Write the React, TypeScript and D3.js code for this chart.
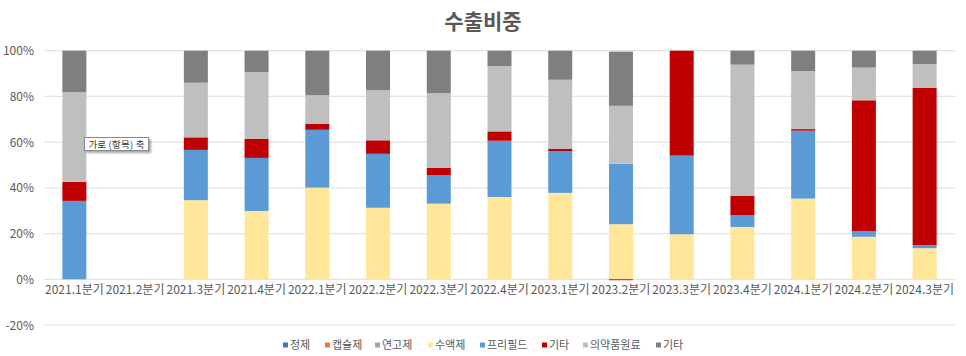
import React from "react";
import * as d3 from "d3";

const categories = ["2021.1분기","2021.2분기","2021.3분기","2021.4분기","2022.1분기","2022.2분기","2022.3분기","2022.4분기","2023.1분기","2023.2분기","2023.3분기","2023.4분기","2024.1분기","2024.2분기","2024.3분기"];
const seriesNames = ["정제","캡슐제","연고제","수액제","프리필드","기타","의약품원료","기타"];
const seriesColors = ["#4472C4","#ED7D31","#A5A5A5","#FFE699","#5B9BD5","#C00000","#BFBFBF","#7F7F7F"];

const tablet = [0,0,0,0,0,0,0,0,0,0,0,0,0,0,0];
const capsule = [0,0,0,0,0,0,0,0,0,0,0,0,0,0,0];
const ointment = [0,0,0,0,0,0,0,0,0,0,0,0,0,0,0];
const infusion = [0,0,34.6,29.9,40.1,31.3,33.1,36.0,37.8,24.1,19.7,22.9,35.3,18.6,13.6];
const prefilled = [34.3,0,22.0,23.2,25.3,23.6,12.4,24.6,18.2,26.5,34.4,5.1,29.7,2.5,1.3];
const etcRed = [8.3,0,5.5,8.3,2.7,5.9,3.2,4.1,1.0,-0.4,45.9,8.6,0.7,57.2,68.8];
const rawMaterial = [39.2,0,23.9,29.3,12.4,21.9,32.7,28.6,30.3,25.3,0,57.3,25.4,14.3,10.5];
const etcGray = [18.2,0,14.0,9.3,19.5,17.3,18.6,6.7,12.7,23.7,0,6.1,8.9,7.4,5.8];

const yTicks = [-20,0,20,40,60,80,100];

export default function App() {
  const W = 966, H = 356;
  const left = 44, right = 955, top = 50.7, zeroY = 279.3;
  const allSeries = [tablet, capsule, ointment, infusion, prefilled, etcRed, rawMaterial, etcGray];
  const rows = categories.map((c, i) => {
    const r: any = { cat: c };
    allSeries.forEach((s, k) => { r["s" + k] = s[i]; });
    return r;
  });
  const keys = allSeries.map((_, k) => "s" + k);
  const stacked = d3.stack().keys(keys).offset(d3.stackOffsetDiverging)(rows);

  const x = d3.scaleBand().domain(categories).range([left, right]).paddingInner(0.605).paddingOuter(0.3025);
  const y = d3.scaleLinear().domain([0, 100]).range([zeroY, top]);

  const font = "'Noto Sans CJK KR', 'Noto Sans', sans-serif";
  const textColor = "#595959";

  const legendX = [283, 325, 375, 428, 480, 542, 583, 656];

  return (
    <svg width={W} height={H} style={{ position: "absolute", left: 0, top: 0, background: "#fff" }} fontFamily={font}>
      <defs>
        <filter id="sh" x="-20%" y="-20%" width="150%" height="160%">
          <feDropShadow dx="2" dy="2" stdDeviation="1" floodColor="#000" floodOpacity="0.35" />
        </filter>
      </defs>
      <text x={483} y={29} textAnchor="middle" fontSize={21} fontWeight="bold" fill={textColor}>수출비중</text>
      {yTicks.map(t => (
        <g key={t}>
          <line x1={left} x2={right} y1={y(t)} y2={y(t)} stroke="#E3E3E3" strokeWidth={1.2} />
          <text x={34} y={y(t) + 4.5} textAnchor="end" fontSize={12} fill={textColor}>{t + "%"}</text>
        </g>
      ))}
      {stacked.map((layer, k) => (
        <g key={k} fill={seriesColors[k]}>
          {layer.map((d, i) => {
            const y0 = y(d[0]), y1 = y(d[1]);
            const h = Math.abs(y0 - y1);
            if (h <= 0) return null;
            return <rect key={i} x={x(categories[i])} y={Math.min(y0, y1)} width={x.bandwidth()} height={h} />;
          })}
        </g>
      ))}
      {categories.map(c => (
        <text key={c} x={(x(c) as number) + x.bandwidth() / 2} y={294} textAnchor="middle" fontSize={12} fill={textColor}>{c}</text>
      ))}
      <g filter="url(#sh)">
        <rect x={84.5} y={137.5} width={64} height={13} fill="#fff" stroke="#8a8a8a" strokeWidth={1} />
      </g>
      <text x={116.5} y={147.5} textAnchor="middle" fontSize={9.5} letterSpacing={0.2} fill="#333">가로 (항목)  축</text>
      {seriesNames.map((n, k) => (
        <g key={k}>
          <rect x={legendX[k]} y={342.5} width={5} height={5} fill={seriesColors[k]} />
          <text x={legendX[k] + 7} y={349} fontSize={11} fill={textColor}>{n}</text>
        </g>
      ))}
    </svg>
  );
}
